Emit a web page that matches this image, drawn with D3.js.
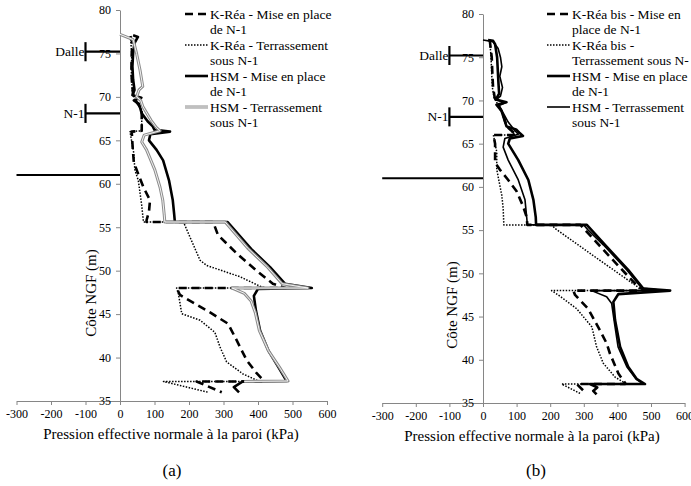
<!DOCTYPE html>
<html>
<head>
  <meta charset="utf-8">
  <title>Pression effective - K-Réa / HSM</title>
  <script src="https://cdn.jsdelivr.net/npm/d3@7"></script>
  <style>
    body { margin: 0; background: #fff; }
    svg, svg text { font-family: "Liberation Serif", "DejaVu Serif", serif; }
  </style>
</head>
<body>
<svg id="chart" width="691" height="486" font-family="Liberation Serif, DejaVu Serif, serif"></svg>
<script>
// ---- data: [pression (kPa), cote NGF (m)] ----
var xTicks = [-300, -200, -100, 0, 100, 200, 300, 400, 500, 600];
var yTicks = [35, 40, 45, 50, 55, 60, 65, 70, 75, 80];

var kreaMiseA = [[30,77.0],[36,76.2],[34,75],[33,73],[35,71.5],[38,70.3],[42,69.7],[55,69.0],[63,68.5],[63,66.1],[34,66.0],[37,64],[40,62.5],[52,61.2],[68,59.6],[87,58.1],[84,56.8],[77,55.8],[77,55.6],[270,55.6],[284,54.1],[338,52.0],[396,50.0],[443,48.5],[480,48.0],[164,48.0],[174,47.2],[261,45.2],[313,43.9],[338,42.0],[367,39.7],[396,38.2],[415,37.4],[415,37.25],[222,37.25],[295,36.0]];
var kreaTerrA = [[30,77.0],[34,75],[33,72.5],[36,70.5],[42,69.7],[55,69.0],[63,68.5],[63,66.1],[29,66.0],[40,63.5],[43,61.6],[53,60.4],[63,57.5],[68,55.6],[184,55.6],[198,54.3],[232,51.2],[251,50.6],[348,49.3],[406,48.2],[420,48.0],[164,48.0],[169,47.4],[179,45.05],[232,44.3],[275,42.9],[290,41.2],[309,39.5],[357,38.1],[396,37.4],[400,37.25],[126,37.25],[256,36.0]];
var hsmMiseA = [[38,77.1],[52,76.9],[42,76.2],[38,75],[36,73.5],[38,72],[42,70.8],[36,70.2],[62,69.9],[40,69.6],[55,69.2],[63,68.1],[80,67.2],[95,66.6],[100,66.2],[145,66.0],[88,65.7],[84,65.0],[106,63.9],[125,62.7],[142,60.4],[153,58.1],[157,56.5],[159,55.6],[312,55.6],[380,52.5],[435,50.4],[478,48.5],[556,48.0],[400,47.9],[388,47.1],[394,45.4],[406,43.1],[430,40.8],[459,38.9],[483,37.3],[356,37.25],[330,36.6],[345,36.0]];
var hsmTerrA = [[0,77.2],[38,76.6],[48,75],[58,73.1],[63,71.9],[66,71.2],[55,70.8],[48,70.0],[60,69.6],[66,68.9],[90,67.3],[105,66.5],[116,66.1],[70,65.6],[63,64.8],[77,63.9],[101,61.6],[116,59.6],[124,58.1],[128,56.5],[130,55.6],[305,55.6],[370,52.6],[428,50.4],[470,48.5],[545,48.0],[325,48.0],[360,47.4],[380,46.5],[392,45.2],[404,43.1],[430,40.8],[462,38.9],[487,37.3],[360,37.25]];

var kreaMiseB = [[20,77.0],[26,75],[28,73],[30,71.5],[35,70.3],[45,69.5],[55,68.8],[63,68.0],[70,67.0],[100,66.0],[31,66.0],[36,65],[36,62.8],[50,62.0],[75,60.8],[100,59.5],[120,57.7],[130,56.5],[132,55.6],[290,55.6],[378,51.9],[465,48.3],[500,48.0],[269,48.0],[274,47.5],[313,45.9],[348,43.4],[368,41.9],[378,40.7],[403,38.4],[423,37.3],[423,37.2],[279,37.2],[305,36.2]];
var kreaTerrB = [[20,77.0],[24,75],[26,73],[28,71.5],[33,70.3],[45,69.5],[55,68.8],[63,68.0],[70,67.0],[95,66.0],[31,66.0],[41,64],[41,62],[51,60],[56,59],[60,57.5],[62,55.6],[205,55.6],[214,55.2],[348,51.5],[467,48.25],[490,48.0],[204,48.0],[224,47.5],[279,45.9],[324,43.8],[338,41.5],[358,39.6],[393,38.0],[423,37.3],[423,37.2],[234,37.2],[289,36.1]];
var hsmMiseB = [[15,77.0],[30,76.9],[36,76.5],[42,75],[44,73.5],[46,72],[48,70.8],[38,70.1],[70,69.8],[40,69.5],[55,68.8],[70,67.0],[100,66.6],[110,66.2],[119,65.9],[80,65.6],[75,65.0],[105,63.1],[135,60.8],[150,58.5],[157,56.5],[158,55.6],[309,55.6],[370,53.0],[432,50.4],[477,48.25],[557,48.0],[403,47.6],[388,46.7],[393,44.6],[408,41.5],[432,39.2],[457,37.8],[482,37.2],[318,37.2],[340,36.8],[328,36.4],[338,36.0]];
var hsmTerrB = [[0,77.0],[30,76.8],[45,76.0],[52,75],[56,73.9],[50,72.8],[58,71.5],[52,70.5],[40,70.1],[65,69.7],[48,69.4],[58,68.7],[75,67.5],[95,66.5],[105,66.1],[65,65.6],[60,64.6],[75,63.1],[105,60.8],[125,58.5],[130,56.5],[132,55.6],[300,55.6],[313,55.0],[358,53.3],[428,50.4],[472,48.3],[540,48.0],[323,48.0],[368,47.3],[383,46.5],[390,44.6],[402,41.5],[428,39.2],[455,37.8],[477,37.2],[330,37.2]];

// niveaux repères (cote NGF) et étiquettes
var reperes = [{label: "Dalle", y: 75.2}, {label: "N-1", y: 68.1}];
var fondFouille = 61.0;

var legendA = [["K-Réa - Mise en place", "de N-1"], ["K-Réa - Terrassement", "sous N-1"], ["HSM - Mise en place", "de N-1"], ["HSM - Terrassement", "sous N-1"]];
var legendB = [["K-Réa bis - Mise en", "place de N-1"], ["K-Réa bis -", "Terrassement sous N-"], ["HSM - Mise en place", "de N-1"], ["HSM - Terrassement", "sous N-1"]];

var FONT = "Liberation Serif, DejaVu Serif, serif";

var styles = {
  dash:   {stroke: "#000", width: 2.6, dash: "8,5"},
  dot:    {stroke: "#000", width: 1.5, dash: "1.5,1.5"},
  thick:  {stroke: "#000", width: 2.6, dash: null},
  grey:   {stroke: "#8c8c8c", width: 3, dash: null, inner: true},
  thin:   {stroke: "#000", width: 1.6, dash: null}
};

var svg = d3.select("#chart");

function drawLine(g, data, st, x, y) {
  var line = d3.line().x(function(d) { return x(d[0]); }).y(function(d) { return y(d[1]); });
  g.append("path").datum(data).attr("d", line).attr("fill", "none")
    .attr("stroke", st.stroke).attr("stroke-width", st.width)
    .attr("stroke-dasharray", st.dash).attr("stroke-linejoin", "round");
  if (st.inner) {
    g.append("path").datum(data).attr("d", line).attr("fill", "none")
      .attr("stroke", "#fff").attr("stroke-width", 0.9).attr("stroke-linejoin", "round");
  }
}

function txt(g) {
  return g.append("text").attr("font-family", FONT).attr("fill", "#000");
}

function panel(opt) {
  var x = d3.scaleLinear().domain([-300, 600]).range(opt.xr);
  var y = d3.scaleLinear().domain([35, 80]).range(opt.yr);
  var g = svg.append("g");

  // axes
  var xa = g.append("g").attr("transform", "translate(0," + y(35) + ")")
    .call(d3.axisBottom(x).tickValues(xTicks).tickSize(4).tickSizeOuter(0).tickPadding(4)
      .tickFormat(function(d) { return String(d); }));
  var ya = g.append("g").attr("transform", "translate(" + x(0) + ",0)")
    .call(d3.axisLeft(y).tickValues(yTicks).tickSize(4).tickSizeOuter(0).tickPadding(5)
      .tickFormat(function(d) { return String(d); }));
  [xa, ya].forEach(function(a) {
    a.attr("font-family", FONT).attr("font-size", 12);
    a.selectAll("path, line").attr("stroke", "#868686");
    a.selectAll("text").attr("fill", "#000");
  });

  // repères Dalle / N-1
  reperes.forEach(function(r) {
    g.append("line").attr("x1", x(-100)).attr("x2", x(0)).attr("y1", y(r.y)).attr("y2", y(r.y))
      .attr("stroke", "#000").attr("stroke-width", 2.2);
    g.append("line").attr("x1", x(-100)).attr("x2", x(-100)).attr("y1", y(r.y + 1.1)).attr("y2", y(r.y - 1.1))
      .attr("stroke", "#000").attr("stroke-width", 2.2);
    txt(g).attr("x", x(-100) - 1).attr("y", y(r.y) + 4.5).attr("text-anchor", "end")
      .attr("font-size", 13.5).text(r.label);
  });
  g.append("line").attr("x1", x(-300)).attr("x2", x(0)).attr("y1", y(fondFouille)).attr("y2", y(fondFouille))
    .attr("stroke", "#000").attr("stroke-width", 2);

  // courbes
  opt.series.forEach(function(s) { drawLine(g, s.data, s.style, x, y); });

  // légende
  opt.legend.forEach(function(lab, i) {
    var ly = opt.legY + i * 31;
    var st = opt.series[i].style;
    drawLine(g, [[0, 0], [1, 0]], st,
      d3.scaleLinear().domain([0, 1]).range([opt.legX - 24, opt.legX - 1]),
      function() { return ly; });
    lab.forEach(function(t, j) {
      txt(g).attr("x", opt.legX + 1).attr("y", ly + 4.5 + j * 15.5)
        .attr("font-size", 13.5).text(t);
    });
  });

  // titres
  txt(g).attr("transform", "translate(" + opt.yTitle[0] + "," + opt.yTitle[1] + ") rotate(-90)")
    .attr("text-anchor", "middle").attr("font-size", 15).text("Côte NGF (m)");
  txt(g).attr("x", opt.xTitle[0]).attr("y", opt.xTitle[1]).attr("text-anchor", "middle")
    .attr("font-size", 15).text("Pression effective normale à la paroi (kPa)");
  txt(g).attr("x", opt.tag[0]).attr("y", opt.tag[1]).attr("text-anchor", "middle")
    .attr("font-size", 17).text(opt.tagText);
}

panel({
  xr: [16.5, 327], yr: [401, 10],
  series: [
    {data: kreaMiseA, style: styles.dash},
    {data: kreaTerrA, style: styles.dot},
    {data: hsmMiseA, style: styles.thick},
    {data: hsmTerrA, style: styles.grey}
  ],
  legend: legendA, legX: 209, legY: 14,
  yTitle: [96, 293], xTitle: [171, 439], tag: [172, 476], tagText: "(a)"
});

panel({
  xr: [382.2, 684.6], yr: [403, 14],
  series: [
    {data: kreaMiseB, style: styles.dash},
    {data: kreaTerrB, style: styles.dot},
    {data: hsmMiseB, style: styles.thick},
    {data: hsmTerrB, style: styles.thin}
  ],
  legend: legendB, legX: 571, legY: 14,
  yTitle: [457, 305], xTitle: [532, 441], tag: [536, 476], tagText: "(b)"
});
</script>
</body>
</html>
